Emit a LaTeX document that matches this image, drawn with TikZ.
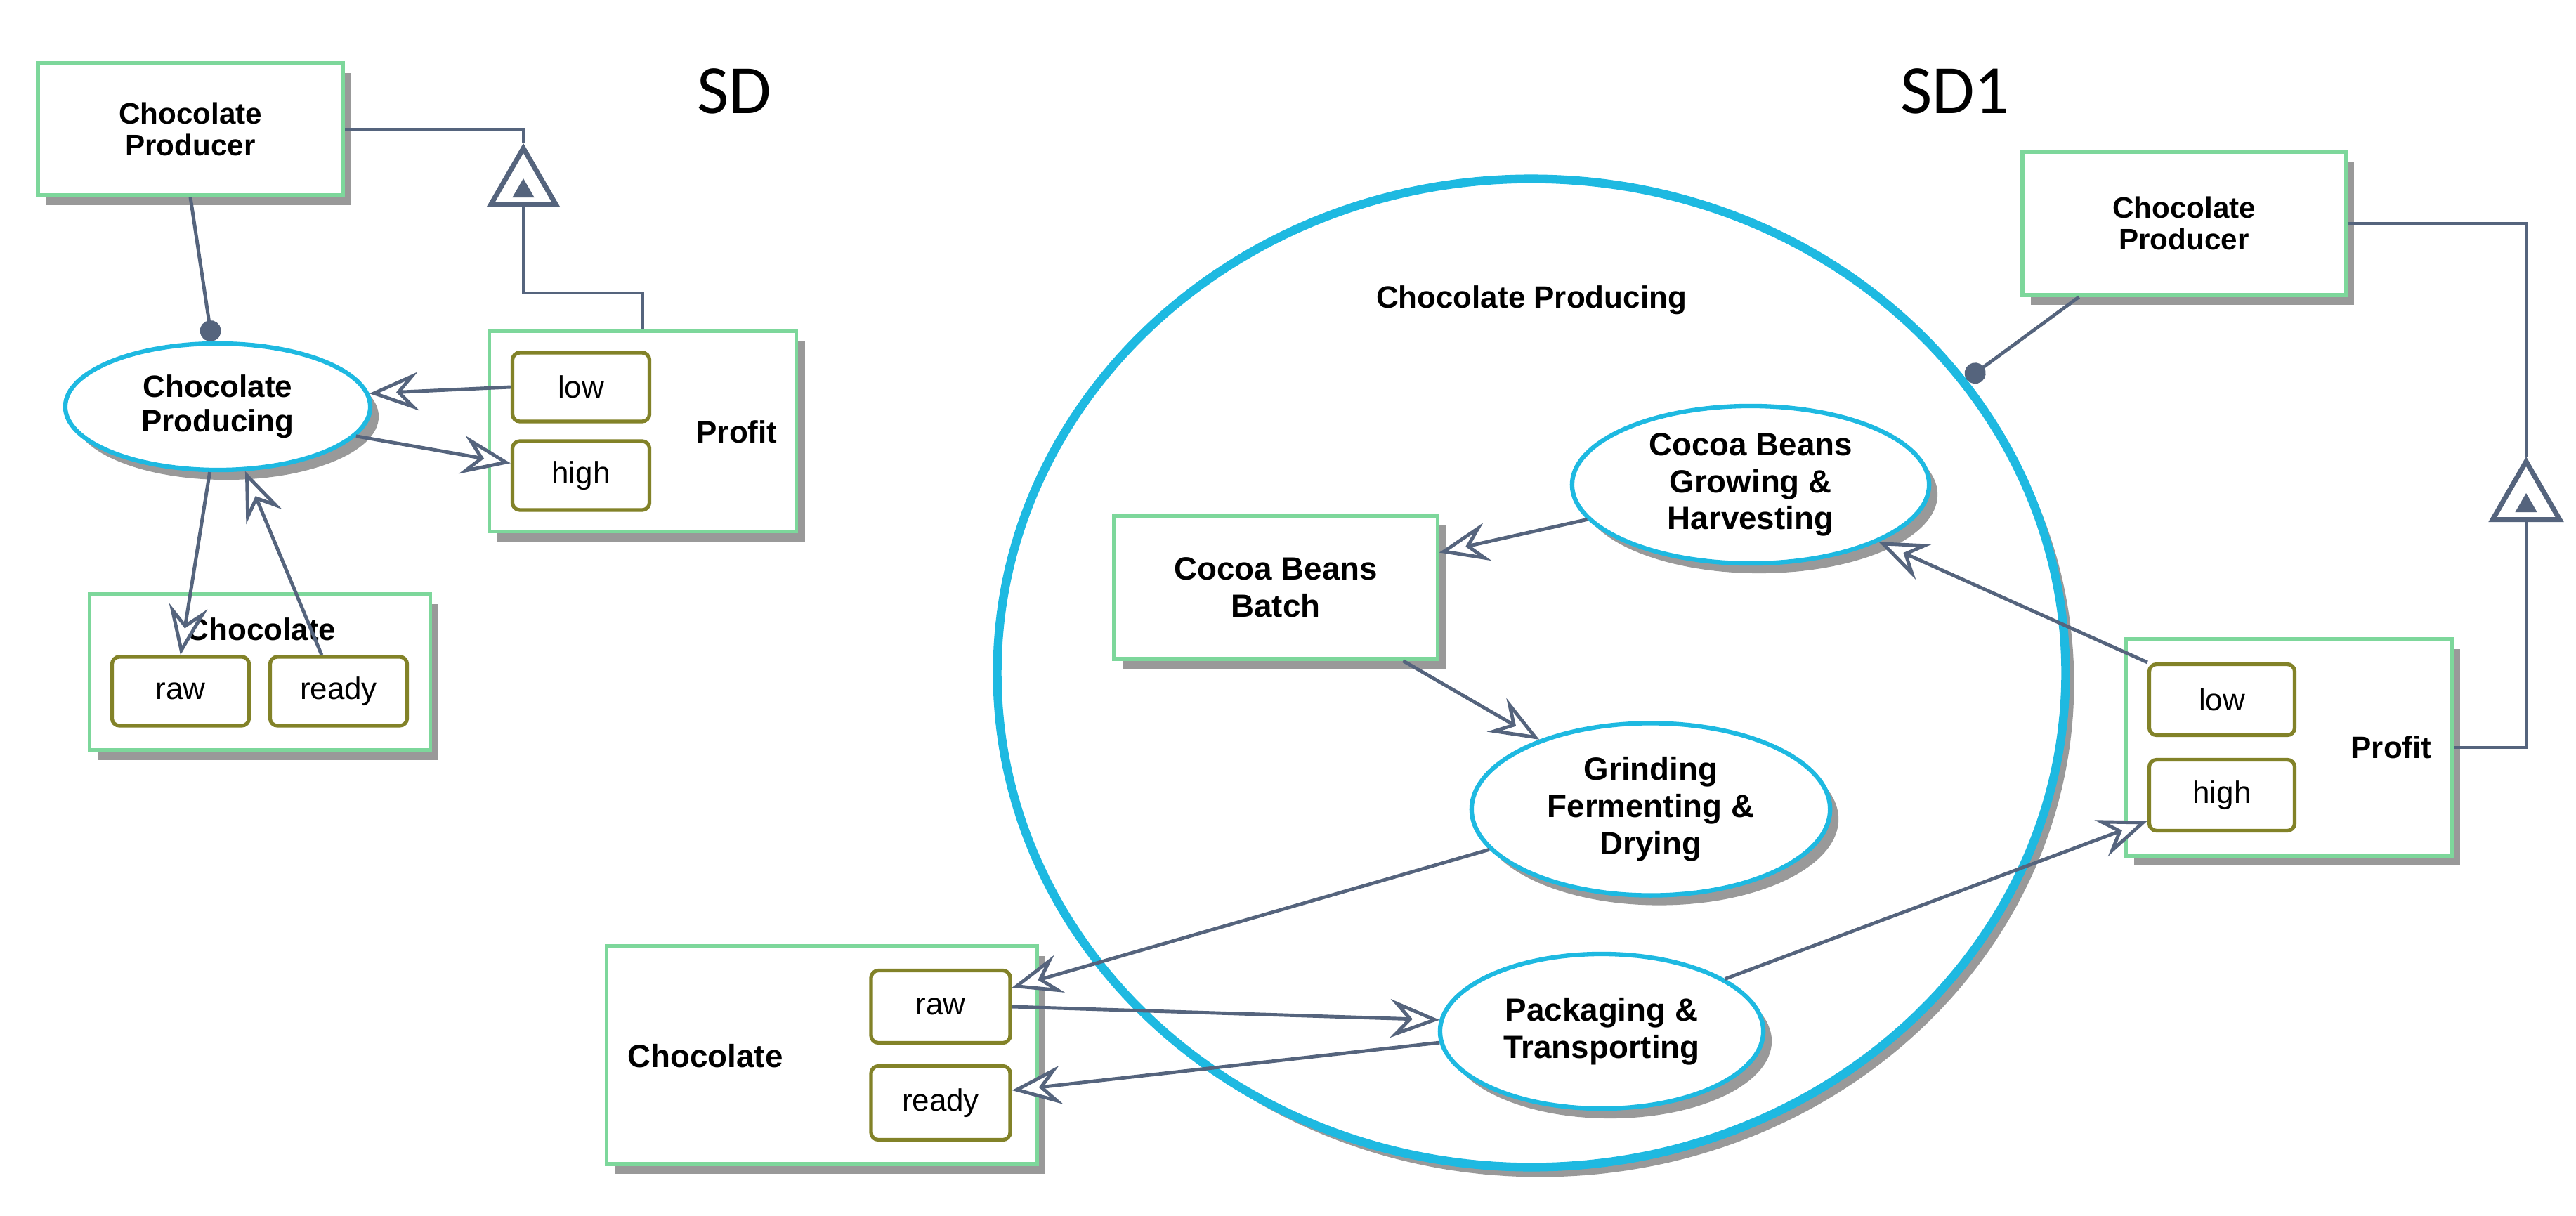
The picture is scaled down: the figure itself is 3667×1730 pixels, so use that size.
\documentclass[tikz,border=0pt]{standalone}
\usepackage{fontspec}
\setmainfont{Liberation Sans}
\newfontfamily\sdfont{Carlito}
\usetikzlibrary{shapes.geometric,shadows,arrows.meta,calc}
\definecolor{objgreen}{RGB}{125,215,155}
\definecolor{stateol}{RGB}{130,130,40}
\definecolor{procblue}{RGB}{30,185,225}
\definecolor{linkc}{RGB}{85,100,125}
\tikzset{
  shad/.style={drop shadow={shadow xshift=0.12cm, shadow yshift=-0.14cm, fill=gray!80, opacity=1}},
  obj/.style={draw=objgreen, line width=1.5pt, fill=white, shad, font=\bfseries\fontsize{12}{13}\selectfont, align=center},
  proc/.style={ellipse, draw=procblue, line width=1.8pt, fill=white, shad, font=\bfseries\fontsize{12.5}{14}\selectfont, align=center, inner sep=0pt},
  state/.style={draw=stateol, line width=1.5pt, rounded corners=3pt, fill=white, minimum width=1.95cm, minimum height=0.98cm, font=\fontsize{12.5}{14}\selectfont},
  link/.style={draw=linkc, line width=1.4pt},
  flow/.style={link, -{Stealth[open, fill=white, length=0.7cm, width=0.55cm, inset=0.25cm]}},
  agent/.style={link, -{Circle[length=0.3cm, fill=linkc]}},
  exhib/.style={regular polygon, regular polygon sides=3, draw=linkc, line width=2pt, fill=white, inner sep=0pt},
  exhibin/.style={regular polygon, regular polygon sides=3, fill=linkc, inner sep=0pt, minimum size=0.36cm},
  sdtitle/.style={font=\sdfont\fontsize{28}{30}\selectfont}
}
\begin{document}
\begin{tikzpicture}[x=0.01cm, y=-0.01cm]
  \useasboundingbox (0,0) rectangle (3667,1730);
  % SD
  \node[sdtitle] (sd) at (1045,130) {SD};
  \node[obj, minimum width=4.34cm, minimum height=1.88cm] (prod) at (271,184) {Chocolate\\Producer};
  \node[obj, minimum width=4.37cm, minimum height=2.85cm] (profit) at (915,614) {};
  \node[font=\bfseries\fontsize{12.5}{14}\selectfont] (profitl) at (1049,615) {Profit};
  \node[state] (low) at (827,551) {low};
  \node[state] (high) at (827,677) {high};
  \node[proc, minimum width=4.34cm, minimum height=1.8cm] (cproc) at (310,579) {Chocolate\\Producing};
  \node[obj, minimum width=4.84cm, minimum height=2.22cm] (choc) at (370,957) {};
  \node[font=\bfseries\fontsize{12.5}{14}\selectfont] (chocl) at (372,896) {Chocolate};
  \node[state] (raw) at (257,984) {raw};
  \node[state] (ready) at (482,984) {ready};
  \node[exhib, minimum size=1.06cm] (tri) at (745,264) {};
  \node[exhibin] (trin) at (745,272) {};

  \draw[link] (prod.east) -| (tri.north);
  \draw[link] (tri.south) -- (tri.south |- 0,417) -| (profit.north);
  \draw[agent] (prod.south) -- (cproc.95);
  \draw[flow] (low.west) -- (cproc.5);
  \draw[flow] (cproc.-12) -- (high.170);
  \draw[flow] (cproc.-97) -- (raw.north);
  \draw[flow] (ready.115) -- (cproc.-67);

  % SD1
  \node[sdtitle] (sdone) at (2783,130) {SD1};
  \node[proc, minimum width=15.2cm, minimum height=14.06cm, line width=3.5pt] (big) at (2180,958) {};
  \node[font=\bfseries\fontsize{12.5}{14}\selectfont] (bigl) at (2180,427) {Chocolate Producing};
  \node[obj, minimum width=4.6cm, minimum height=2.04cm] (prodb) at (3109,318) {Chocolate\\Producer};
  \node[obj, minimum width=4.64cm, minimum height=3.08cm] (profitb) at (3258,1064) {};
  \node[font=\bfseries\fontsize{12.5}{14}\selectfont] (profitbl) at (3404,1064) {Profit};
  \node[state, minimum width=2.07cm, minimum height=1.01cm] (lowb) at (3163,996) {low};
  \node[state, minimum width=2.07cm, minimum height=1.01cm] (highb) at (3163,1132) {high};
  \node[proc, minimum width=5.08cm, minimum height=2.24cm, font=\bfseries\fontsize{13}{15}\selectfont] (grow) at (2492,690) {Cocoa Beans\\Growing \&\\Harvesting};
  \node[obj, minimum width=4.6cm, minimum height=2.04cm, font=\bfseries\fontsize{13}{15}\selectfont] (batch) at (1816,836) {Cocoa Beans\\Batch};
  \node[proc, minimum width=5.1cm, minimum height=2.45cm, font=\bfseries\fontsize{13}{15}\selectfont] (grind) at (2350,1152) {Grinding\\Fermenting \&\\Drying};
  \node[proc, minimum width=4.6cm, minimum height=2.2cm, font=\bfseries\fontsize{13}{15}\selectfont] (pack) at (2280,1468) {Packaging \&\\Transporting};
  \node[obj, minimum width=6.12cm, minimum height=3.1cm] (chocb) at (1170,1502) {};
  \node[font=\bfseries\fontsize{13}{15}\selectfont] (chocbl) at (1004,1503) {Chocolate};
  \node[state, minimum width=1.98cm, minimum height=1.03cm] (rawb) at (1339,1433) {raw};
  \node[state, minimum width=1.98cm, minimum height=1.05cm] (readyb) at (1339,1570) {ready};
  \node[exhib, minimum size=1.1cm] (trib) at (3596,712) {};
  \node[exhibin] (tribn) at (3596,720) {};

  \draw[link] (prodb.east) -| (trib.north);
  \draw[link] (trib.south) |- (profitb.east);
  \draw[agent] (prodb.-145) -- (big.34);
  \draw[flow] (grow.192) -- (batch.12);
  \draw[flow] (batch.-30) -- (grind.148);
  \draw[flow] (lowb.north west) -- (grow.-24);
  \draw[flow] (grind.194) -- (rawb.15);
  \draw[flow] (rawb.east) -- (pack.176);
  \draw[flow] (pack.184) -- (readyb.10);
  \draw[flow] (pack.23) -- (highb.199);
\end{tikzpicture}
\end{document}
